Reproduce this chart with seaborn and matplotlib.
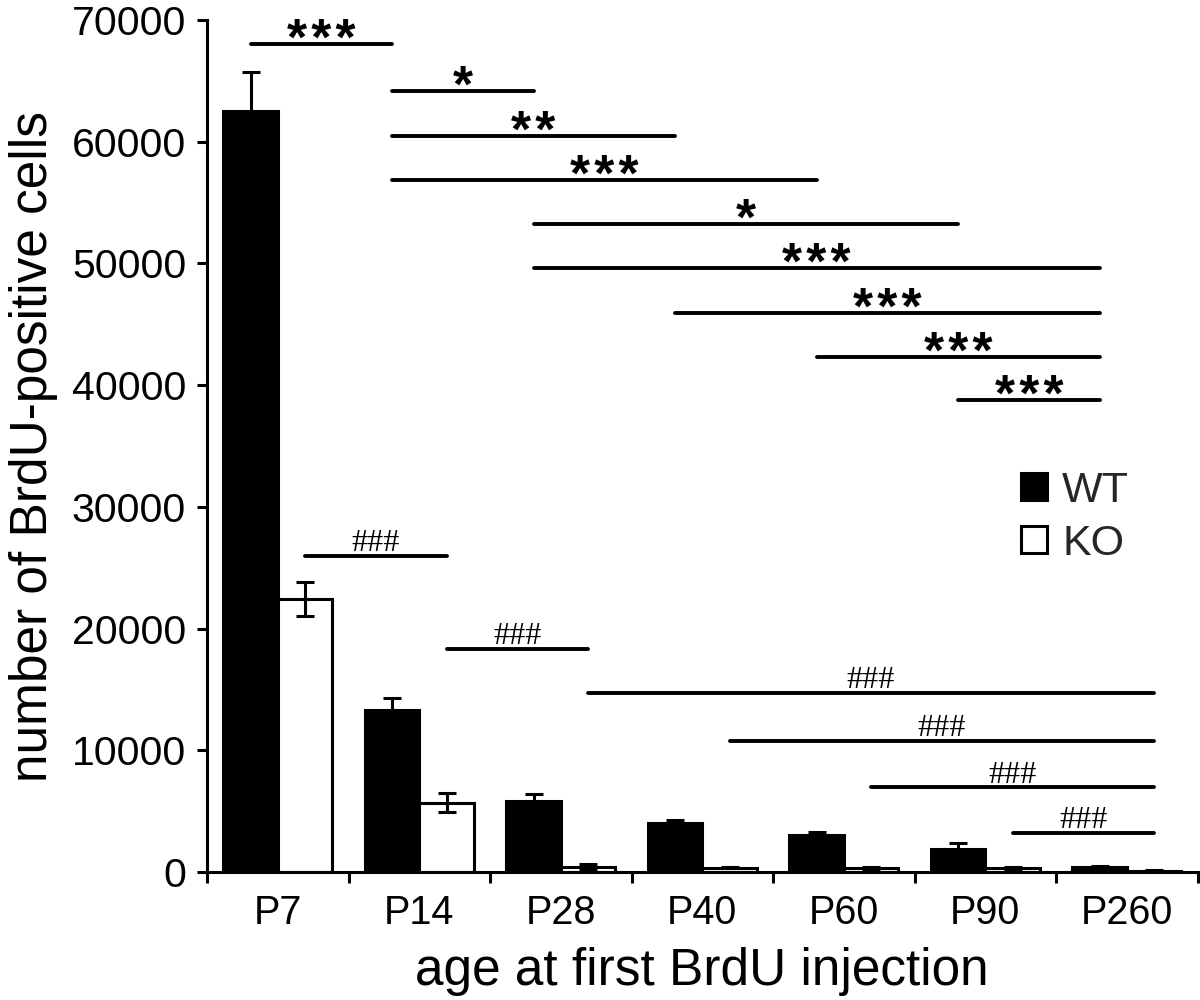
import numpy as np
import pandas as pd
import matplotlib
matplotlib.use("Agg")
import matplotlib.pyplot as plt
import seaborn as sns
from matplotlib.patches import Patch

# ---- data ----
ages = ["P7", "P14", "P28", "P40", "P60", "P90", "P260"]
groups = ["WT", "KO"]
wt_mean = [62500, 13300, 5800, 4000, 3000, 1900, 420]
wt_sem = [3200, 1000, 580, 280, 300, 450, 40]
ko_mean = [22400, 5700, 420, 350, 320, 320, 120]
ko_sem = [1400, 750, 200, 40, 120, 120, 20]
y_ticks = [0, 10000, 20000, 30000, 40000, 50000, 60000, 70000]

# significance comparisons: (from age index, to age index, level, label)
wt_comparisons = [(0, 1, 68000, "***"), (1, 2, 64200, "*"), (1, 3, 60500, "**"),
                  (1, 4, 56850, "***"), (2, 5, 53250, "*"), (2, 6, 49650, "***"),
                  (3, 6, 45950, "***"), (4, 6, 42350, "***"), (5, 6, 38750, "***")]
ko_comparisons = [(0, 1, 25950, "###"), (1, 2, 18300, "###"), (2, 6, 14700, "###"),
                  (3, 6, 10750, "###"), (4, 6, 6950, "###"), (5, 6, 3200, "###")]

sns.set_theme(style="ticks")
plt.rcParams['font.family'] = ['Liberation Sans', 'DejaVu Sans']

df = pd.DataFrame({
    "age": ages * 2,
    "genotype": ["WT"] * len(ages) + ["KO"] * len(ages),
    "cells": wt_mean + ko_mean,
})

fig = plt.figure(figsize=(12, 10), dpi=100)
ax = fig.add_axes([0.1725, 0.128, 0.8255, 0.852])

sns.barplot(data=df, x="age", y="cells", hue="genotype", order=ages,
            hue_order=groups, palette={"WT": "black", "KO": "white"},
            edgecolor="black", linewidth=2.2, width=0.77, errorbar=None,
            legend=False, ax=ax, zorder=2)

centers = {}
for g, cont, sems in zip(groups, ax.containers, [wt_sem, ko_sem]):
    xs = [p.get_x() + p.get_width() / 2 for p in cont]
    hs = [p.get_height() for p in cont]
    centers[g] = xs
    ax.errorbar(xs, hs, yerr=sems, fmt="none", ecolor="black",
                elinewidth=2.2, capsize=6.5, capthick=2.2, zorder=3)

for i, j, lvl, lab in wt_comparisons:
    x1, x2 = centers["WT"][i], centers["WT"][j]
    ax.plot([x1, x2], [lvl, lvl], color="black", lw=2.8,
            solid_capstyle="round", clip_on=False, zorder=4)
    ax.annotate("\u200a".join(lab), xy=((x1 + x2) / 2, lvl), xytext=(0, -8),
                textcoords="offset points", ha="center", va="baseline",
                fontsize=37, color="black", fontweight="semibold")

for i, j, lvl, lab in ko_comparisons:
    x1, x2 = centers["KO"][i], centers["KO"][j]
    ax.plot([x1, x2], [lvl, lvl], color="black", lw=2.8,
            solid_capstyle="round", clip_on=False, zorder=4)
    ax.annotate(lab, xy=((x1 + x2) / 2, lvl), xytext=(0, 3.5),
                textcoords="offset points", ha="center", va="baseline",
                fontsize=23, family=["Liberation Serif", "DejaVu Serif"],
                color="black")

ax.set_xlim(-0.5, len(ages) - 0.5)
ax.set_ylim(0, 70000)
ax.set_yticks(y_ticks)
ax.set_yticklabels([str(v) for v in y_ticks])
ax.set_xticks(range(len(ages)))
ax.set_xticklabels(ages)
ax.set_xticks(np.arange(-0.5, len(ages), 1.0), minor=True)
ax.tick_params(axis="x", which="major", length=0, pad=16, labelsize=28.5, colors="black")
ax.tick_params(axis="x", which="minor", length=8, width=2.2, direction="out", color="black")
ax.tick_params(axis="y", which="major", length=7, width=2.2, pad=8, labelsize=29.5, colors="black")

for s in ["left", "bottom"]:
    ax.spines[s].set_linewidth(2.2)
    ax.spines[s].set_color("black")
sns.despine(ax=ax)

ax.set_xlabel("age at first BrdU injection", fontsize=37, labelpad=11, color="black")
ax.set_ylabel("number of BrdU-positive cells", fontsize=37, labelpad=10, color="black")

handles = [Patch(facecolor="black", edgecolor="black", linewidth=2.2),
           Patch(facecolor="white", edgecolor="black", linewidth=2.2)]
ax.legend(handles, groups, frameon=False, fontsize=31, loc="upper left",
          bbox_to_anchor=(0.822, 0.471), handlelength=0.6, handleheight=0.6,
          handletextpad=0.35, labelspacing=0.3, borderpad=0, borderaxespad=0)

fig.savefig("out.png", dpi=100, facecolor="white")
